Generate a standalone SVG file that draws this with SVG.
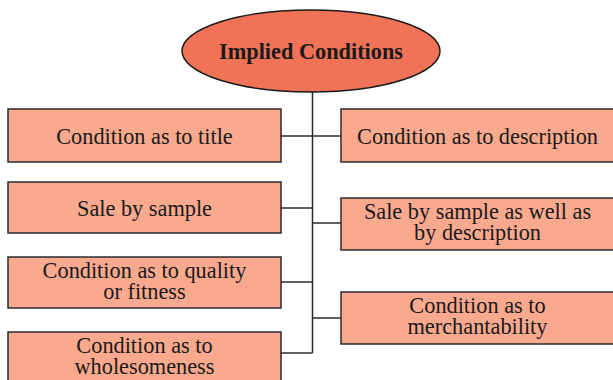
<svg xmlns="http://www.w3.org/2000/svg" width="613" height="380" viewBox="0 0 613 380">
<style>
.box{fill:#F9A98D;stroke:#2b2b2b;stroke-width:1.5}
.ell{fill:#F07257;stroke:#1a1a1a;stroke-width:1.5}
.t{font-family:"Liberation Serif","Times New Roman",serif;font-size:22.3px;fill:#1a1a1a;text-anchor:middle}
.b{font-weight:bold}
.c{stroke:#2b2b2b;stroke-width:1.5;fill:none}
</style>
<rect width="613" height="380" fill="#ffffff"/>
<g id="connectors">
<line class="c" x1="312.5" y1="91" x2="312.5" y2="353"/>
<line class="c" x1="281" y1="136" x2="341" y2="136"/>
<line class="c" x1="281" y1="208" x2="312.5" y2="208"/>
<line class="c" x1="312.5" y1="223" x2="341" y2="223"/>
<line class="c" x1="281" y1="282" x2="312.5" y2="282"/>
<line class="c" x1="312.5" y1="318" x2="341" y2="318"/>
<line class="c" x1="281" y1="353" x2="312.5" y2="353"/>
</g>
<g id="root">
<ellipse class="ell" cx="311" cy="51" rx="129" ry="41"/>
<text class="t b" x="311" y="59">Implied Conditions</text>
</g>
<g id="title">
<rect class="box" x="8" y="109" width="273" height="53"/>
<text class="t" x="144.5" y="144">Condition as to title</text>
</g>
<g id="sample">
<rect class="box" x="8" y="182" width="273" height="51"/>
<text class="t" x="144.5" y="216">Sale by sample</text>
</g>
<g id="quality">
<rect class="box" x="8" y="257" width="273" height="51"/>
<text class="t" x="144.5" y="277.5">Condition as to quality</text>
<text class="t" x="144.5" y="298.5">or fitness</text>
</g>
<g id="wholesomeness">
<rect class="box" x="8" y="332" width="273" height="51"/>
<text class="t" x="144.5" y="352.5">Condition as to</text>
<text class="t" x="144.5" y="373.5">wholesomeness</text>
</g>
<g id="description">
<rect class="box" x="341" y="109" width="273" height="53"/>
<text class="t" x="477.5" y="144">Condition as to description</text>
</g>
<g id="sample-description">
<rect class="box" x="341" y="198" width="273" height="52"/>
<text class="t" x="477.5" y="218.5">Sale by sample as well as</text>
<text class="t" x="477.5" y="239.5">by description</text>
</g>
<g id="merchantability">
<rect class="box" x="341" y="292" width="273" height="52"/>
<text class="t" x="477.5" y="312.5">Condition as to</text>
<text class="t" x="477.5" y="333.5">merchantability</text>
</g>
</svg>
